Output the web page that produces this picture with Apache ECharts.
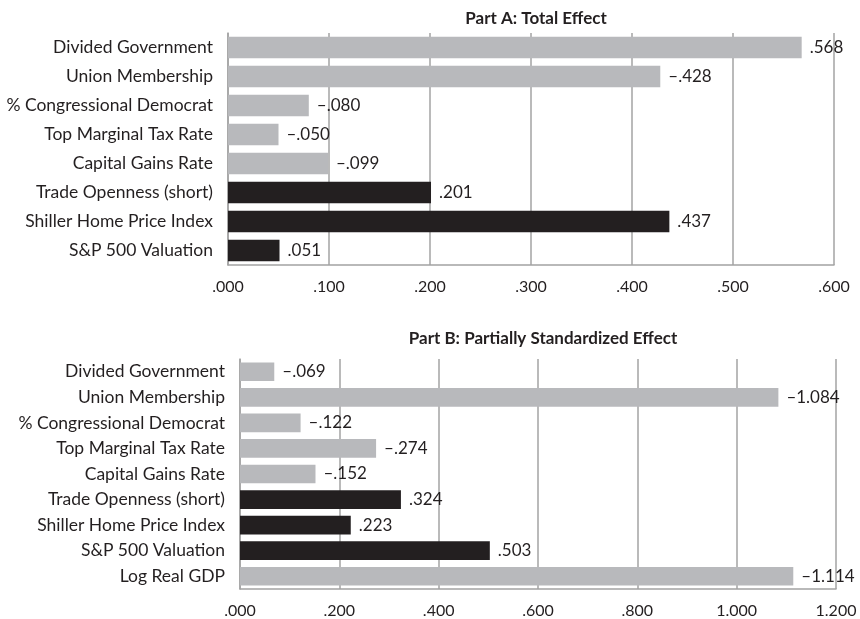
<!DOCTYPE html>
<html>
<head>
<meta charset="utf-8">
<script src="https://cdn.jsdelivr.net/npm/echarts@6/dist/echarts.min.js"></script>
<style>
html,body{margin:0;padding:0;background:#fff;}
#c{width:860px;height:619px;}
</style>
</head>
<body>
<div id="c"></div>
<script>
const titleA = 'Part A: Total Effect';
const titleB = 'Part B: Partially Standardized Effect';
const catsA = ['Divided Government','Union Membership','% Congressional Democrat','Top Marginal Tax Rate','Capital Gains Rate','Trade Openness (short)','Shiller Home Price Index','S&P 500 Valuation'];
const valsA = [0.568, -0.428, -0.080, -0.050, -0.099, 0.201, 0.437, 0.051];
const darkA = [false,false,false,false,false,true,true,true];
const catsB = ['Divided Government','Union Membership','% Congressional Democrat','Top Marginal Tax Rate','Capital Gains Rate','Trade Openness (short)','Shiller Home Price Index','S&P 500 Valuation','Log Real GDP'];
const valsB = [-0.069, -1.084, -0.122, -0.274, -0.152, 0.324, 0.223, 0.503, -1.114];
const darkB = [false,false,false,false,false,true,true,true,false];
const ticksA = {min:0, max:0.6, interval:0.1};
const ticksB = {min:0, max:1.2, interval:0.2};

const FONT = 'Lato';
const TXT = '#231f20';
const GRAY = '#b8b9bc';
const BLACK = '#231f20';
const LINE = '#a3a3a3';

function fmtTick(v){ let s = v.toFixed(3); return s.startsWith('0') ? s.slice(1) : s; }
function fmtVal(v){ let s = Math.abs(v).toFixed(3); if (s.startsWith('0')) s = s.slice(1); return (v < 0 ? '\u2013' : '') + s; }
function mkData(vals, dark){
  return vals.map((v,i)=>({value: Math.abs(v), signed: v, itemStyle:{color: dark[i] ? BLACK : GRAY}}));
}
function xAx(idx, t){
  return {gridIndex: idx, type:'value', min:t.min, max:t.max, interval:t.interval,
    axisLine:{show:true, lineStyle:{color:LINE, width:1.5}},
    axisTick:{show:false},
    splitLine:{show:true, lineStyle:{color:LINE, width:1.5}},
    axisLabel:{formatter: fmtTick, color:TXT, fontFamily:FONT, fontSize:16, margin:14}};
}
function yAx(idx, cats){
  return {gridIndex: idx, type:'category', data: cats, inverse:true,
    axisLine:{show:true, lineStyle:{color:LINE, width:1.5}},
    axisTick:{show:false},
    axisLabel:{color:TXT, fontFamily:FONT, fontSize:17.5, margin:15}};
}
function ser(idx, vals, dark, gap){
  return {type:'bar', xAxisIndex:idx, yAxisIndex:idx, data: mkData(vals, dark), barCategoryGap: gap,
    animation:false,
    label:{show:true, position:'right', distance:8, color:TXT, fontFamily:FONT, fontSize:17,
      formatter: p => fmtVal(p.data.signed)}};
}
const chart = echarts.init(document.getElementById('c'), null, {renderer:'canvas'});
chart.setOption({
  backgroundColor:'#fff',
  animation:false,
  title:[
    {text:titleA, left:531, top:5, textAlign:'center', textStyle:{fontFamily:FONT, fontWeight:'bold', fontSize:17, color:TXT}},
    {text:titleB, left:538, top:325, textAlign:'center', textStyle:{fontFamily:FONT, fontWeight:'bold', fontSize:17, color:TXT}}
  ],
  grid:[
    {left:228, right:26, top:33, height:232, containLabel:false},
    {left:240, right:24, top:359, height:230, containLabel:false}
  ],
  xAxis:[xAx(0, ticksA), xAx(1, ticksB)],
  yAxis:[yAx(0, catsA), yAx(1, catsB)],
  series:[ser(0, valsA, darkA, '26%'), ser(1, valsB, darkB, '27%')]
});
</script>
</body>
</html>
